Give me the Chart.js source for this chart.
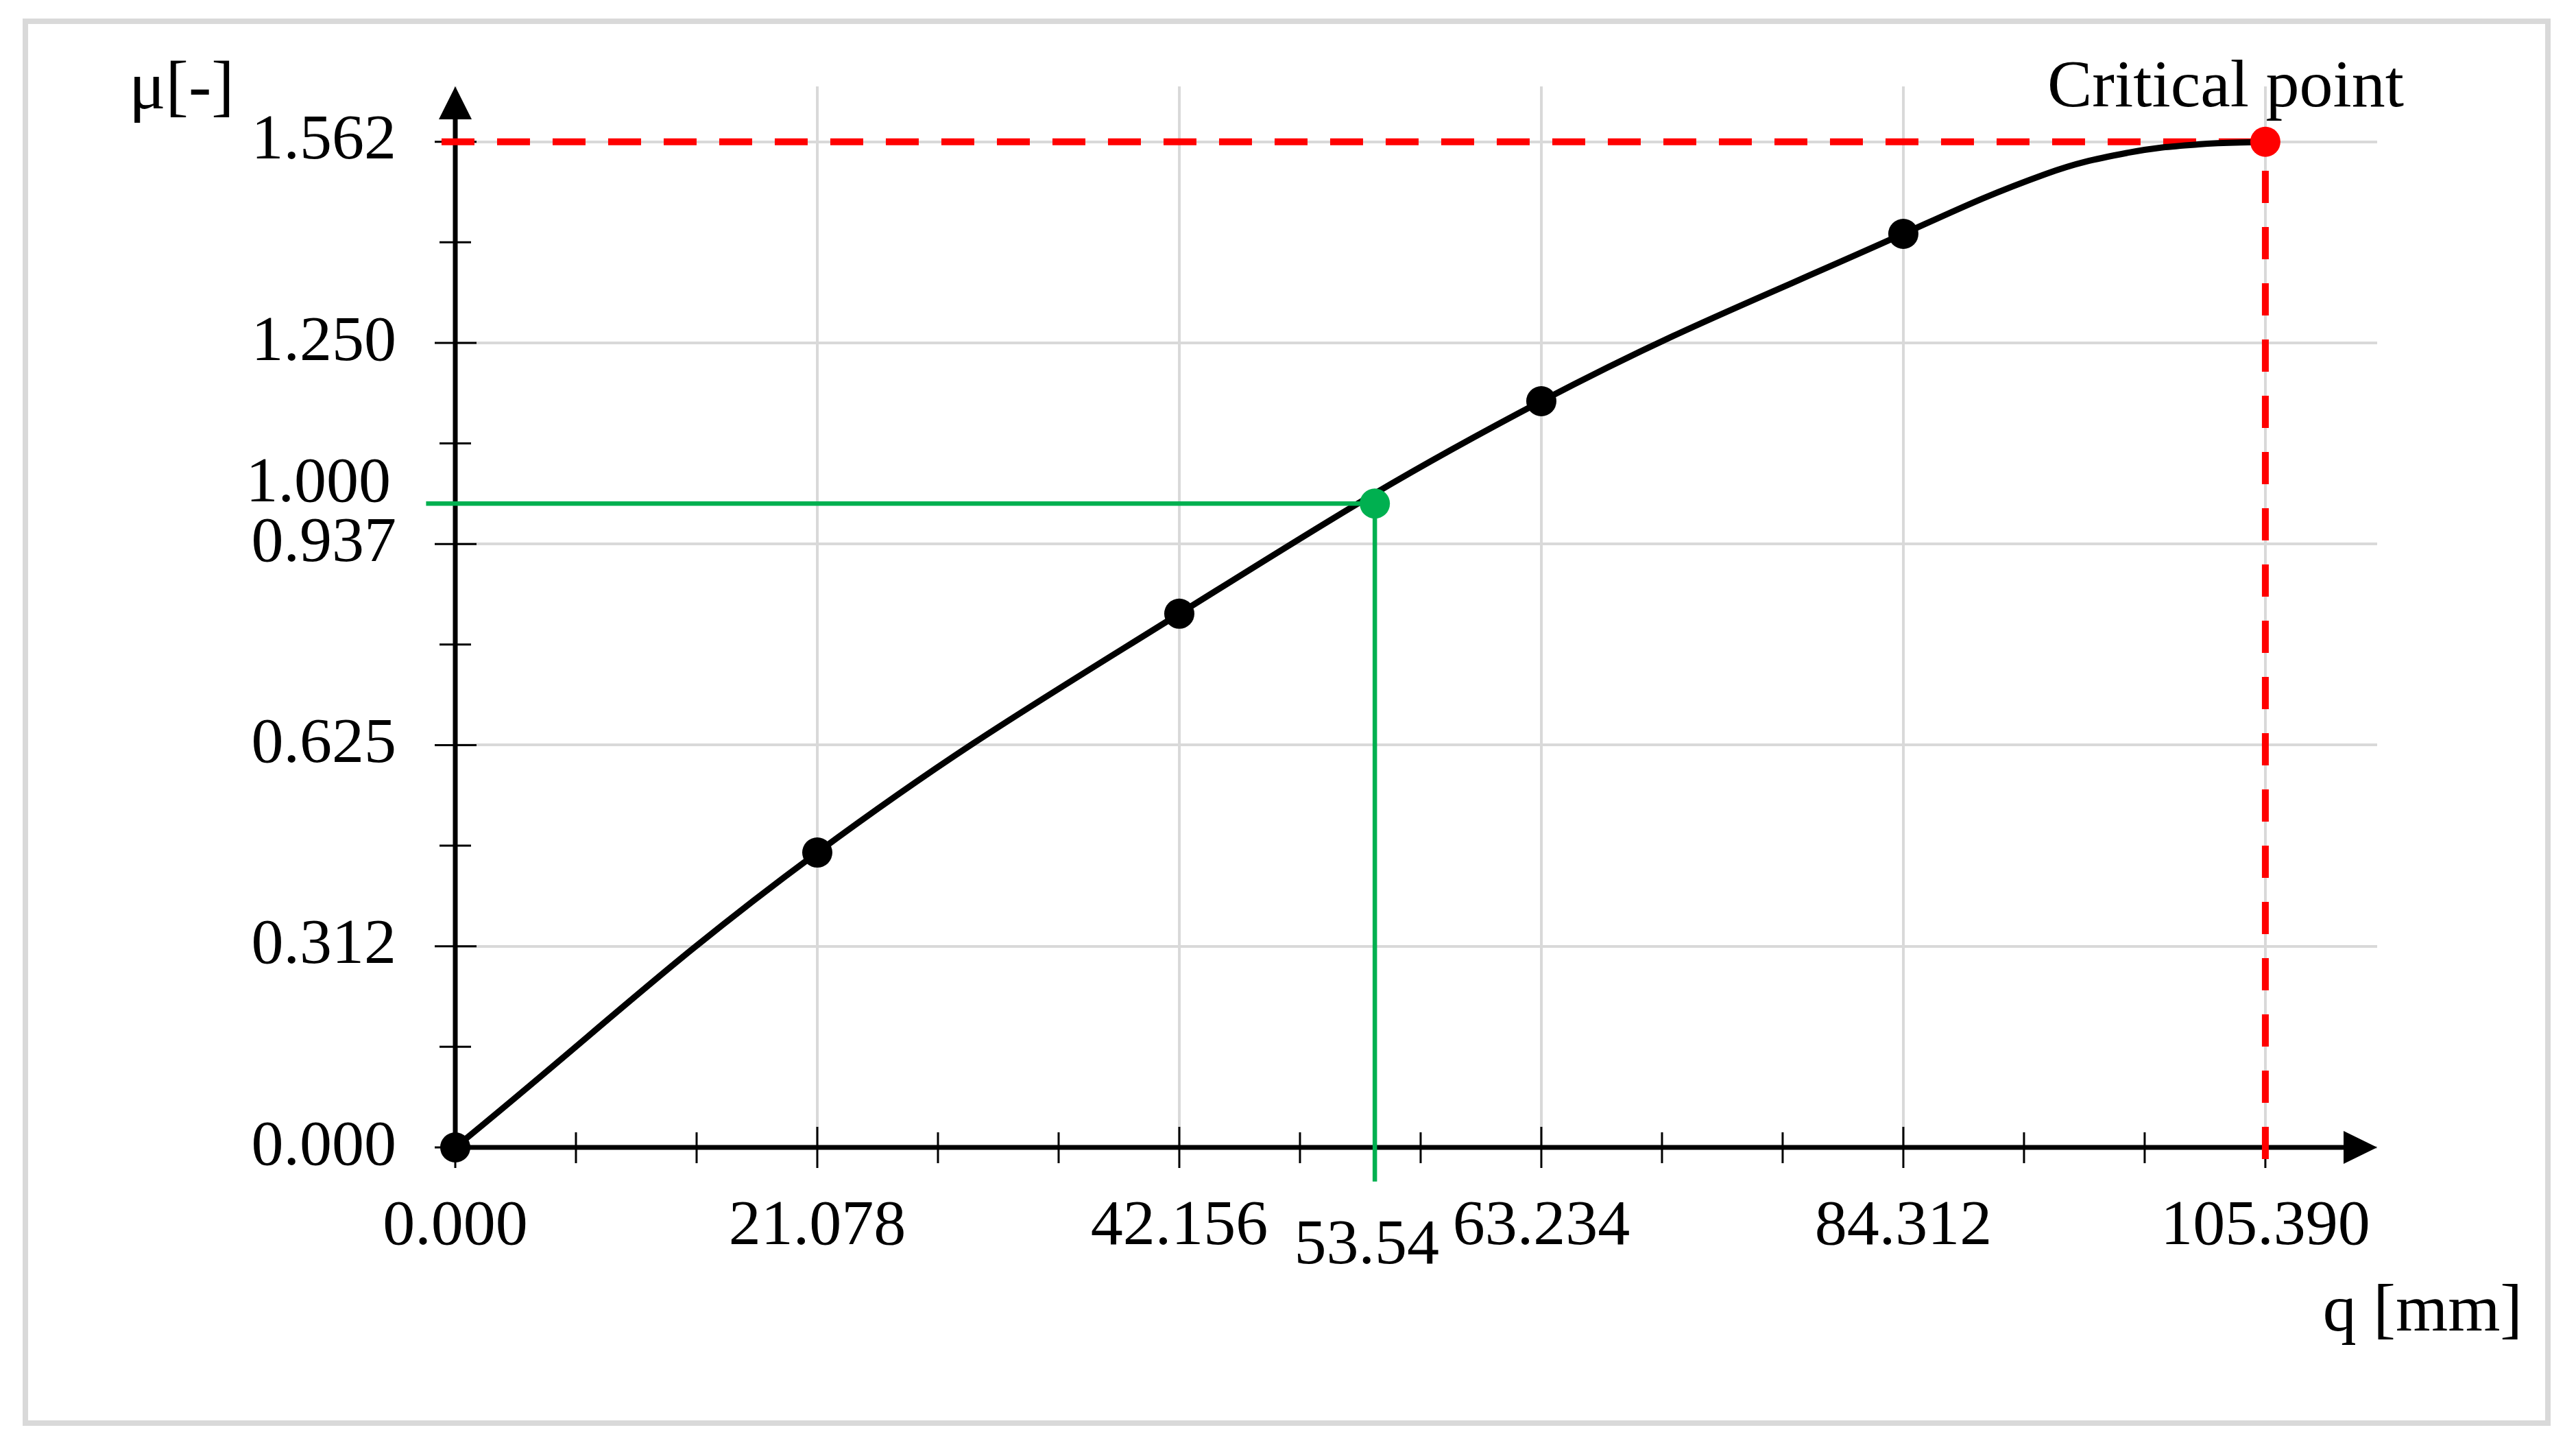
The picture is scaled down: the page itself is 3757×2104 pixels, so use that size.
<!DOCTYPE html>
<html>
<head>
<meta charset="utf-8">
<title>mu(q) critical point</title>
<script src="https://cdn.jsdelivr.net/npm/chart.js@4.4.1/dist/chart.umd.min.js"></script>
<style>
  html, body { margin: 0; padding: 0; background: #fff; }
  canvas { display: block; }
</style>
</head>
<body>
<canvas id="mu-chart" width="3757" height="2104"></canvas>
<script>
// marked points on the mu(q) curve
const qValues = [0, 21.078, 42.156, 63.234, 84.312]
const muValues = [0, 0.458, 0.829, 1.159, 1.419]

// the curve itself (flattens out at the critical point)
const curveQ = [0, 21.078, 42.156, 63.234, 84.312, 92.6, 97.4, 101.5, 105.39]
const curveMu = [0, 0.458, 0.829, 1.159, 1.419, 1.512, 1.545, 1.558, 1.562]

// point where mu reaches 1
const qGreen = 53.54
const muGreen = 1.0
// critical point
const qCritical = 105.39
const muCritical = 1.562

const xTicks = [0, 21.078, 42.156, 63.234, 84.312, 105.39]
const xTickLabels = ['0.000', '21.078', '42.156', '63.234', '84.312', '105.390']
const xMinorTicks = [7.026, 14.052, 28.104, 35.13, 49.182, 56.208, 70.26, 77.286, 91.338, 98.364]
const yTicks = [0, 0.3124, 0.6248, 0.9372, 1.2496, 1.562]
const yTickLabels = ['0.000', '0.312', '0.625', '0.937', '1.250', '1.562']
const yMinorTicks = [0.1562, 0.4686, 0.781, 1.0934, 1.4058]

const FONT = "'Liberation Serif', 'DejaVu Serif', serif"
const RED = '#ff0000'
const GREEN = '#00b050'

// how far the guide lines run past the axes (in axis units)
const greenLeft = -1.7, greenBottom = -0.053
const redLeft = -0.8, redBottom = -0.018

const axesPlugin = {
    id: 'axes',
    beforeDraw(chart) {
        const c = chart.ctx
        c.save()
        c.fillStyle = '#fff'
        c.fillRect(0, 0, chart.width, chart.height)
        c.strokeStyle = '#d9d9d9'
        c.lineWidth = 8
        c.strokeRect(37, 31, 3679, 2044)
        c.restore()
    },
    beforeDatasetsDraw(chart) {
        const { ctx: c, chartArea: a, scales: { x, y } } = chart
        const x0 = x.getPixelForValue(0)
        const y0 = y.getPixelForValue(0)
        c.save()
        c.strokeStyle = '#000'
        c.fillStyle = '#000'
        c.lineWidth = 7
        c.beginPath()
        c.moveTo(x0, y0 + 3)
        c.lineTo(x0, a.top + 44)
        c.moveTo(x0 - 3, y0)
        c.lineTo(a.right - 44, y0)
        c.stroke()
        // arrow heads
        c.beginPath()
        c.moveTo(x0, a.top)
        c.lineTo(x0 - 24, a.top + 48)
        c.lineTo(x0 + 24, a.top + 48)
        c.closePath()
        c.moveTo(a.right, y0)
        c.lineTo(a.right - 49, y0 - 24)
        c.lineTo(a.right - 49, y0 + 24)
        c.closePath()
        c.fill()
        // tick marks crossing the axes
        c.lineWidth = 3
        c.beginPath()
        xTicks.forEach(v => { const p = x.getPixelForValue(v); c.moveTo(p, y0 - 30); c.lineTo(p, y0 + 30) })
        xMinorTicks.forEach(v => { const p = x.getPixelForValue(v); c.moveTo(p, y0 - 22); c.lineTo(p, y0 + 23) })
        yTicks.forEach(v => { const p = y.getPixelForValue(v); c.moveTo(x0 - 30, p); c.lineTo(x0 + 31, p) })
        yMinorTicks.forEach(v => { const p = y.getPixelForValue(v); c.moveTo(x0 - 23, p); c.lineTo(x0 + 23, p) })
        c.stroke()
        c.restore()
    },
    afterDatasetsDraw(chart) {
        const { ctx: c, scales: { x, y } } = chart
        const x0 = x.getPixelForValue(0)
        const y0 = y.getPixelForValue(0)
        c.save()
        c.fillStyle = '#000'
        c.font = '100px ' + FONT
        c.textAlign = 'left'
        c.textBaseline = 'alphabetic'
        c.fillText('μ[-]', 188, 158)

        c.font = '98px ' + FONT
        c.textAlign = 'right'
        c.fillText('q [mm]', 3679, 1940)

        c.textAlign = 'center'
        c.fillText('Critical point', x.getPixelForValue(qCritical) - 58, y.getPixelForValue(muCritical) - 52)

        c.font = '94px ' + FONT
        c.textBaseline = 'middle'
        c.fillText('53.54', x.getPixelForValue(qGreen) - 12, y0 + 144)
        c.textAlign = 'right'
        c.fillText('1.000', x0 - 94, y.getPixelForValue(muGreen) - 28)
        c.restore()
    }
}

const ctx = document.querySelector('#mu-chart')
new Chart(ctx, {
    type: 'line',
    data: {
        datasets: [
            {
                label: 'mu = 1',
                data: [{ x: greenLeft, y: muGreen }, { x: qGreen, y: muGreen }, { x: qGreen, y: greenBottom }],
                borderColor: GREEN,
                backgroundColor: GREEN,
                borderWidth: 6.5,
                pointRadius: [0, 22, 0],
                pointBorderWidth: 0,
                tension: 0,
                clip: false,
                order: 0,
            },
            {
                label: 'critical point',
                data: [{ x: qCritical, y: muCritical }],
                showLine: false,
                backgroundColor: RED,
                pointRadius: 22,
                pointBorderWidth: 0,
                clip: false,
                order: 0,
            },
            {
                label: 'points',
                data: qValues.map((q, i) => ({ x: q, y: muValues[i] })),
                showLine: false,
                backgroundColor: '#000',
                pointRadius: 22,
                pointBorderWidth: 0,
                clip: false,
                order: 1,
            },
            {
                label: 'mu(q)',
                data: curveQ.map((q, i) => ({ x: q, y: curveMu[i] })),
                borderColor: '#000',
                borderWidth: 9,
                pointRadius: 0,
                tension: 0.4,
                clip: false,
                order: 2,
            },
            {
                label: 'critical mu',
                data: [{ x: redLeft, y: muCritical }, { x: qCritical, y: muCritical }],
                borderColor: RED,
                borderWidth: 10,
                borderDash: [48, 33],
                pointRadius: 0,
                clip: false,
                order: 3,
            },
            {
                label: 'critical q',
                data: [{ x: qCritical, y: redBottom }, { x: qCritical, y: muCritical }],
                borderColor: RED,
                borderWidth: 10,
                borderDash: [47, 35],
                pointRadius: 0,
                clip: false,
                order: 3,
            },
        ]
    },
    options: {
        responsive: false,
        devicePixelRatio: 1,
        animation: false,
        layout: { padding: { left: 0, top: 126, right: 290, bottom: 0 } },
        plugins: { legend: { display: false }, tooltip: { enabled: false } },
        scales: {
            x: {
                type: 'linear',
                min: 0,
                max: 111.9,
                afterBuildTicks: s => { s.ticks = xTicks.map(v => ({ value: v })) },
                afterFit: s => { s.height = 431; s.paddingLeft = 0; s.paddingRight = 0 },
                grid: { color: '#d9d9d9', lineWidth: 4, drawTicks: false },
                border: { display: false },
                ticks: {
                    autoSkip: false,
                    maxRotation: 0,
                    padding: 60,
                    color: '#000',
                    font: { family: FONT, size: 94 },
                    callback: (v, i) => xTickLabels[i],
                },
            },
            y: {
                type: 'linear',
                min: 0,
                max: 1.648,
                afterBuildTicks: s => { s.ticks = yTicks.map(v => ({ value: v })) },
                afterFit: s => { s.width = 664; s.paddingTop = 0; s.paddingBottom = 0 },
                grid: { color: '#d9d9d9', lineWidth: 4, drawTicks: false },
                border: { display: false },
                ticks: {
                    padding: 86,
                    color: '#000',
                    font: { family: FONT, size: 94 },
                    callback: (v, i) => yTickLabels[i],
                },
            },
        },
    },
    plugins: [axesPlugin],
})
</script>
</body>
</html>
